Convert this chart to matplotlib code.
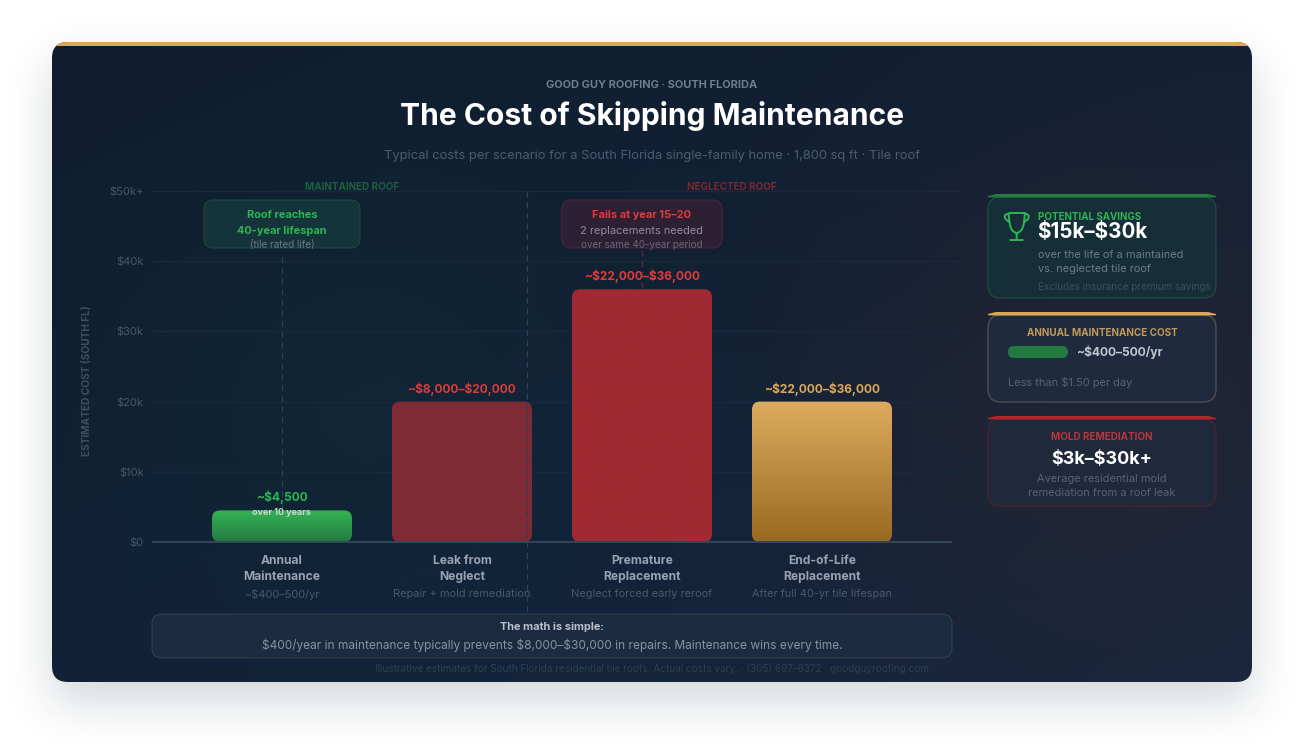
import math
import matplotlib
matplotlib.use('Agg')
import matplotlib.pyplot as plt
import numpy as np
from matplotlib.colors import to_rgb
from matplotlib.patches import FancyBboxPatch, PathPatch, Polygon
from matplotlib.path import Path

plt.rcParams['font.family'] = ['Inter', 'DejaVu Sans']

categories = ['Annual\nMaintenance', 'Leak from\nNeglect', 'Premature\nReplacement', 'End-of-Life\nReplacement']
bar_values = [4500, 20000, 36000, 20000]
value_labels = ['~$4,500', '~$8,000–$20,000', '~$22,000–$36,000', '~$22,000–$36,000']
value_colors = ['#2db553', '#d93a3a', '#e03c3c', '#dba858']
sub_labels = ['~$400–500/yr', 'Repair + mold remediation', 'Neglect forced early reroof', 'After full 40-yr tile lifespan']
tick_values = [0, 10000, 20000, 30000, 40000, 50000]
tick_labels = ['$0', '$10k', '$20k', '$30k', '$40k', '$50k+']

W, H = 1304, 744
fig = plt.figure(figsize=(W / 100, H / 100), dpi=100, facecolor='white')


def make_axes(x0, y0, x1, y1, z):
    return fig.add_axes([x0 / W, 1 - y1 / H, (x1 - x0) / W, (y1 - y0) / H], zorder=z)


def box(axes, x0, y0, x1, y1, r, face, edge='none', lw=1.0, z=2, alpha=None):
    p = FancyBboxPatch((x0, y0), x1 - x0, y1 - y0, boxstyle=f'round,pad=0,rounding_size={r}',
                       facecolor=face, edgecolor=edge, linewidth=lw * 0.72, zorder=z, alpha=alpha)
    axes.add_patch(p)
    return p


# background layer, pixel coordinates
back = make_axes(0, 0, W, H, 0)
back.set_xlim(0, W)
back.set_ylim(H, 0)
back.axis('off')

xs = np.arange(W) + 0.5
ys = np.arange(H) + 0.5
verf = np.vectorize(math.erf)
sx = verf((xs - 52) / 32) - verf((xs - 1252) / 32)
sy = verf((ys - 62) / 32) - verf((ys - 702) / 32)
shadow = np.zeros((H, W, 4))
shadow[..., :3] = to_rgb('#0f1e30')
shadow[..., 3] = 0.18 * 0.25 * np.outer(sy, sx)
back.imshow(shadow, extent=(0, W, H, 0), aspect='auto', zorder=0)

# card gradient with faint glows
gx, gy = np.meshgrid(xs, ys)
t = np.clip(((gx - 52) / 1200 * 0.45 + (gy - 42) / 640 * 0.55), 0, 1)[..., None]
card = (1 - t) * np.array(to_rgb('#0f1c2e')) + t * np.array(to_rgb('#13263f'))
green = np.exp(-(((gx - 340) / 260) ** 2 + ((gy - 360) / 240) ** 2))[..., None]
red = np.exp(-(((gx - 1120) / 300) ** 2 + ((gy - 420) / 320) ** 2))[..., None]
card = card + green * np.array([0.0, 0.02, 0.0]) + red * np.array([0.06, 0.005, -0.02])
im = back.imshow(np.clip(card, 0, 1), extent=(0, W, H, 0), aspect='auto', zorder=1)
clip = FancyBboxPatch((52, 42), 1200, 640, boxstyle='round,pad=0,rounding_size=16',
                      facecolor='none', edgecolor='none', transform=back.transData)
back.add_patch(clip)
im.set_clip_path(clip)
stripe = back.fill_between([52, 1252], 42, 46, color='#dba858', lw=0, zorder=2)
stripe.set_clip_path(clip)
back.set_xlim(0, W)
back.set_ylim(H, 0)

# chart
ax = make_axes(152, 191, 952, 542, 1)
ax.patch.set_alpha(0)
ax.set_xlim((152 - 282) / 180, (952 - 282) / 180)
ax.set_ylim(0, 50000)
for s in ax.spines.values():
    s.set_visible(False)
ax.set_yticks(tick_values, tick_labels)
ax.set_xticks(range(4), categories)
ax.tick_params(axis='y', length=0, pad=6, labelsize=8, labelcolor='#475669')
ax.tick_params(axis='x', length=0, pad=9, labelsize=8.7, labelcolor='#98a3b2')
for lab in ax.get_xticklabels():
    lab.set_fontweight('bold')
    lab.set_linespacing(1.5)
ax.set_ylabel('ESTIMATED COST (SOUTH FL)', fontsize=7.3, fontweight='bold', color='#3f4e61')
ax.yaxis.set_label_coords((92 - 152) / 800, (542 - 381) / 351)

ax.hlines(tick_values[1:], -0.722, 3.767, color='#18293c', lw=1.0, zorder=1, clip_on=False)
ax.hlines(0, -0.722, 3.722, color='#36465a', lw=1.4, zorder=4, clip_on=False)

bar_w = 140 / 180
bars = ax.bar(range(4), bar_values, width=bar_w, color='none', zorder=2)
aspect = (50000 / 351) / (1 / 180)
bar_fill = [('#35b355', '#237a40'), ('#7e2b35', '#7e2b35'), ('#9f2a32', '#9f2a32'), ('#dcab5f', '#9a6a22')]
for i, rect in enumerate(bars):
    px, bottom, bw, bh = rect.get_x(), rect.get_y(), rect.get_width(), rect.get_height()
    clip_bar = FancyBboxPatch((px, bottom), bw, bh, boxstyle=f'round,pad=0,rounding_size={8 / 180}',
                              mutation_aspect=aspect, facecolor='none', edgecolor='none', zorder=3)
    ax.add_patch(clip_bar)
    top, bot = bar_fill[i]
    grad = np.linspace(0, 1, 128)[:, None, None] * np.array(to_rgb(bot)) + \
        (1 - np.linspace(0, 1, 128)[:, None, None]) * np.array(to_rgb(top))
    g = ax.imshow(grad, extent=(px, px + bw, bottom, bottom + bh), origin='upper', aspect='auto', zorder=3)
    g.set_clip_path(clip_bar)
ax.set_xlim((152 - 282) / 180, (952 - 282) / 180)
ax.set_ylim(0, 50000)

for i, v in enumerate(bar_values):
    ax.annotate(value_labels[i], (i, v), xytext=(0, 13), textcoords='offset pixels', ha='center', va='center',
                fontsize=8.6, fontweight='bold', color=value_colors[i], zorder=6, parse_math=False)
    ax.annotate(sub_labels[i], (i, 0), xytext=(0, -52), textcoords='offset pixels', ha='center', va='center',
                fontsize=7.9, color='#4a5a6d', annotation_clip=False, zorder=6, parse_math=False)
ax.annotate('over 10 years', (0, bar_values[0]), xytext=(0, -2), textcoords='offset pixels', ha='center',
            va='center', fontsize=6.5, fontweight='bold', color='#c9d8cf', zorder=6)

# front layer, pixel coordinates
front = make_axes(0, 0, W, H, 2)
front.patch.set_alpha(0)
front.set_xlim(0, W)
front.set_ylim(H, 0)
front.axis('off')


def txt(x, y, s, px, color, weight='normal', ha='center', **kw):
    front.text(x, y, s, fontsize=px * 0.72, color=color, fontweight=weight, ha=ha, va='center', zorder=6,
               parse_math=False, **kw)


def dashed(x, y0, y1, color):
    front.plot([x, x], [y0, y1], color=color, lw=0.9, dashes=(5, 3.5), zorder=1)


dashed(527, 191, 625, '#2b4257')
dashed(282, 257, 511, '#1f4a44')
dashed(642, 250, 290, '#5a2a3c')

txt(652, 84.5, 'GOOD GUY ROOFING · SOUTH FLORIDA', 11, '#6f7e8d', 'bold')
txt(652, 116, 'The Cost of Skipping Maintenance', 30, '#ffffff', 'bold')
txt(652, 155.5, 'Typical costs per scenario for a South Florida single-family home · 1,800 sq ft · Tile roof', 13, '#4c5b6e')
txt(352, 187, 'MAINTAINED ROOF', 9.9, '#1e5f40', 'bold')
txt(732, 187, 'NEGLECTED ROOF', 9.9, '#7b2732', 'bold')

# callouts
box(front, 204, 200, 360, 248, 9, '#15333a', '#1d4b40')
txt(282, 214.5, 'Roof reaches', 11, '#2db553', 'bold')
txt(282, 230.5, '40-year lifespan', 11, '#2db553', 'bold')
txt(282, 245, '(tile rated life)', 9.8, '#6b7a80')
box(front, 562, 200, 722, 248, 9, '#2c2032', '#4d2836')
txt(642, 214.5, 'Fails at year 15–20', 11, '#dc3c3c', 'bold')
txt(642, 230.5, '2 replacements needed', 11, '#8d8d99')
txt(642, 245, 'over same 40-year period', 9.8, '#666874')


def side_card(y0, y1, face, edge, top):
    box(front, 988, y0, 1216, y1, 13, face, edge, 1.4)
    front.add_patch(Polygon([(988, y0 - 1), (996, y0 - 3), (1208, y0 - 3), (1216, y0 - 1), (1216, y0 + 0.2),
                             (1208, y0 + 0.5), (996, y0 + 0.5), (988, y0 + 0.2)],
                            closed=True, facecolor=top, edgecolor='none', zorder=3))


side_card(197, 298, '#152e37', '#1d4b3f', '#247a40')
side_card(315, 402, '#1f2a3e', '#4f4f51', '#dba858')
side_card(419, 506, '#20283b', '#46242f', '#b5262a')

# trophy
trophy = Path([(1008.5, 213), (1025, 213), (1024, 222), (1023, 232), (1016.7, 233), (1010.5, 232), (1009.5, 222), (1008.5, 213),
               (1016.7, 233), (1016.7, 240), (1009.5, 240), (1023.5, 240),
               (1008.5, 214), (1003, 214), (1005.5, 219), (1009, 222),
               (1025, 214), (1030.5, 214), (1028, 219), (1024.5, 222)],
              [Path.MOVETO, Path.LINETO, Path.LINETO, Path.CURVE3, Path.CURVE3, Path.CURVE3, Path.CURVE3, Path.LINETO,
               Path.MOVETO, Path.LINETO, Path.MOVETO, Path.LINETO,
               Path.MOVETO, Path.CURVE3, Path.CURVE3, Path.LINETO,
               Path.MOVETO, Path.CURVE3, Path.CURVE3, Path.LINETO])
front.add_patch(PathPatch(trophy, facecolor='none', edgecolor='#2db553', lw=1.4, zorder=5))

txt(1038, 216.5, 'POTENTIAL SAVINGS', 9.8, '#2db553', 'bold', ha='left')
txt(1037, 232.5, '$15k–$30k', 20.6, '#ffffff', 'bold', ha='left')
txt(1038, 254.5, 'over the life of a maintained', 11, '#6d7b86', ha='left')
txt(1038, 268.5, 'vs. neglected tile roof', 11, '#6d7b86', ha='left')
txt(1038, 287, 'Excludes insurance premium savings', 9.9, '#3f5059', ha='left')

txt(1102, 332.5, 'ANNUAL MAINTENANCE COST', 9.9, '#c09a58', 'bold')
box(front, 1008, 346, 1068, 358, 6, '#237a40', z=4)
txt(1076, 352, '~$400–500/yr', 12, '#c2c8d2', 'bold', ha='left')
txt(1008, 382.5, 'Less than $1.50 per day', 11, '#596373', ha='left')

txt(1102, 436.5, 'MOLD REMEDIATION', 9.9, '#b8373c', 'bold')
txt(1102, 459, '$3k–$30k+', 18, '#ffffff', 'bold')
txt(1102, 478.5, 'Average residential mold', 11, '#596373')
txt(1102, 492.5, 'remediation from a roof leak', 11, '#596373')

# bottom note
box(front, 152, 614, 952, 658, 10, '#1c2c40', '#303d4a', 1.2)
txt(552, 627.5, 'The math is simple:', 11, '#b9c1cc', 'bold')
txt(552, 645, '$400/year in maintenance typically prevents $8,000–$30,000 in repairs. Maintenance wins every time.', 11.9, '#87929f')
txt(652, 669, 'Illustrative estimates for South Florida residential tile roofs. Actual costs vary. · (305) 697-6372 · goodguyroofing.com', 10, '#2d3f54')

fig.savefig('out.png', dpi=100, facecolor='white')
